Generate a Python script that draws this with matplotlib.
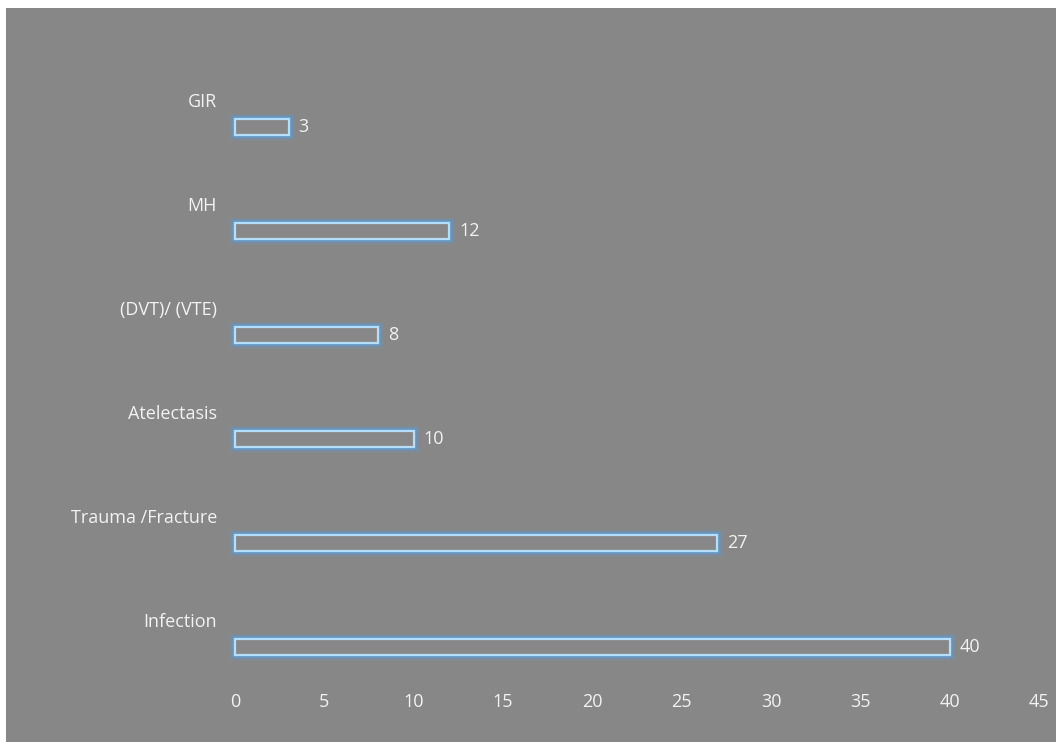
#!/usr/bin/env python3
import numpy as np
import matplotlib.pyplot as plt
from matplotlib.patches import Rectangle

categories = ['Infection', 'Trauma /Fracture', 'Atelectasis', '(DVT)/ (VTE)', 'MH', 'GIR']
values = [40, 27, 10, 8, 12, 3]
xticks = [0, 5, 10, 15, 20, 25, 30, 35, 40, 45]

bg = '#878787'
txt = '#f2f2f2'
edge = '#b5defa'
glow = '#4fa8f5'

plt.rcParams['font.family'] = ['Open Sans', 'DejaVu Sans']

fig = plt.figure(figsize=(10.56, 7.42), dpi=100, facecolor='white')
# gray chart area, offset a little from the top-left corner
fig.patches.append(Rectangle((6 / 1056, 0), 1, 1 - 8 / 742, transform=fig.transFigure,
                             facecolor=bg, edgecolor='none', zorder=-10))

ax = fig.add_axes([235 / 1056, 1 - 672 / 742, (1039 - 235) / 1056, (672 - 48) / 742])
ax.set_facecolor('none')

y = np.arange(len(categories))
ybar = y - 0.26
h = 0.15

# soft glow around the outlines
for lw, a in [(8, 0.10), (6, 0.15), (4.5, 0.22), (3, 0.35)]:
    ax.barh(ybar, values, height=h, facecolor='none', edgecolor=glow, linewidth=lw,
            alpha=a, clip_on=False)
ax.barh(ybar, values, height=h, facecolor=bg, edgecolor=edge, linewidth=1.6, clip_on=False)

for yb, v in zip(ybar, values):
    ax.text(v + 0.55, yb, str(v), color=txt, fontsize=13, va='center', ha='left')

ax.set_xlim(0, 45)
ax.set_ylim(-0.5, 5.5)
ax.set_xticks(xticks)
ax.set_yticks(y)
ax.set_yticklabels(categories)
ax.tick_params(axis='both', length=0, colors=txt, labelsize=13)
ax.tick_params(axis='y', pad=13)
ax.tick_params(axis='x', pad=15)
for s in ax.spines.values():
    s.set_visible(False)

plt.savefig('out.png', dpi=100, facecolor=fig.get_facecolor())
